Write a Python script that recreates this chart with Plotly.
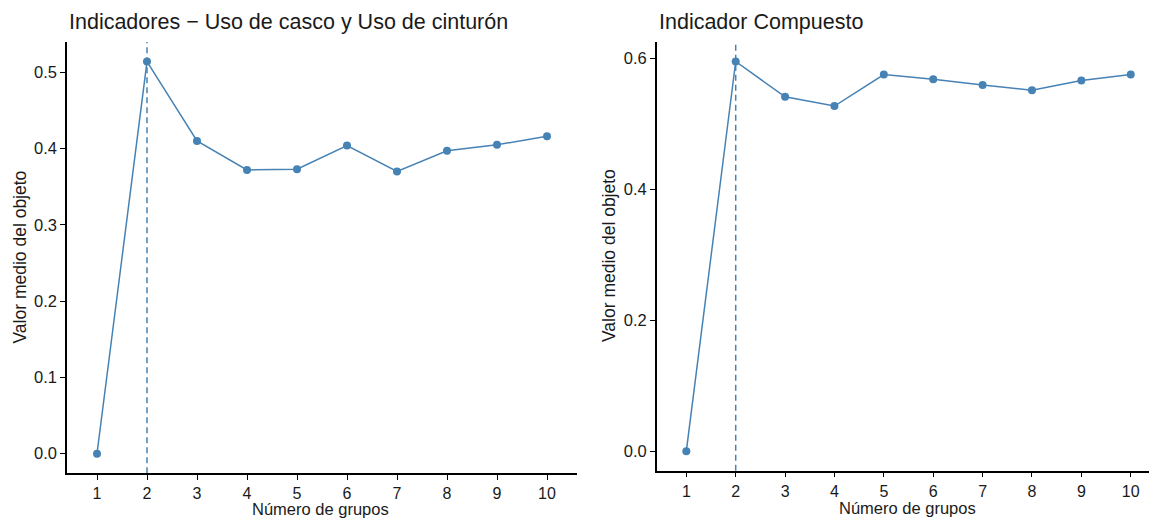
import plotly.graph_objects as go

groups = [1, 2, 3, 4, 5, 6, 7, 8, 9, 10]
casco_cinturon = [0.0, 0.514, 0.410, 0.372, 0.373, 0.404, 0.370, 0.397, 0.405, 0.416]
compuesto = [0.0, 0.595, 0.541, 0.527, 0.575, 0.568, 0.559, 0.551, 0.566, 0.575]
optimal_k = 2

title_left = "Indicadores − Uso de casco y Uso de cinturón"
title_right = "Indicador Compuesto"
xlab = "Número de grupos"
ylab = "Valor medio del objeto"

W, H = 1149, 518
FONT = "Liberation Sans, Arial, sans-serif"
COL = "#4682B4"
TXT = "#1a1a1a"

fig = go.Figure()
fig.add_trace(go.Scatter(x=groups, y=casco_cinturon, mode="lines+markers",
                         line=dict(color=COL, width=1.5), marker=dict(color=COL, size=8),
                         xaxis="x", yaxis="y", showlegend=False))
fig.add_trace(go.Scatter(x=groups, y=compuesto, mode="lines+markers",
                         line=dict(color=COL, width=1.5), marker=dict(color=COL, size=8),
                         xaxis="x2", yaxis="y2", showlegend=False))

def px_x(p):
    return p / W

def px_y(p):
    return 1 - p / H

axis_common = dict(showline=True, linecolor="black", linewidth=1.5, ticks="outside",
                   ticklen=5, tickwidth=1.2, tickcolor="black", showgrid=False, zeroline=False,
                   tickfont=dict(family=FONT, size=16.5, color=TXT))
xtickfont = dict(family=FONT, size=16, color=TXT)

ymax1 = max(casco_cinturon)
ymax2 = max(compuesto)
fig.update_layout(
    width=W, height=H, margin=dict(l=0, r=0, t=0, b=0),
    plot_bgcolor="white", paper_bgcolor="white",
    xaxis=dict(domain=[px_x(67), px_x(577)], range=[0.4, 10.6], tickmode="array",
               tickvals=groups, ticktext=[str(g) for g in groups], anchor="y", **axis_common),
    yaxis=dict(domain=[px_y(473.3), px_y(42)], range=[-0.05 * ymax1, 1.05 * ymax1],
               tickvals=[0, 0.1, 0.2, 0.3, 0.4, 0.5], tickformat=".1f", anchor="x", **axis_common),
    xaxis2=dict(domain=[px_x(656.7), 1.0], range=[0.4, 10.37], tickmode="array",
                tickvals=groups, ticktext=[str(g) for g in groups], anchor="y2", **axis_common),
    yaxis2=dict(domain=[px_y(470.7), px_y(42)], range=[-0.05 * ymax2, 1.05 * ymax2],
                tickvals=[0, 0.2, 0.4, 0.6], tickformat=".1f", anchor="x2", **axis_common),
)
fig.update_xaxes(tickfont=xtickfont)

for xr, yr in (("x", "y domain"), ("x2", "y2 domain")):
    fig.add_shape(type="line", xref=xr, yref=yr, x0=optimal_k, x1=optimal_k, y0=0, y1=1,
                  line=dict(color=COL, width=1.5, dash="6px,4px"), layer="below")

ann = [
    dict(text=title_left, x=px_x(67), y=px_y(22), xanchor="left", yanchor="middle", size=21.5),
    dict(text=title_right, x=px_x(657), y=px_y(22), xanchor="left", yanchor="middle", size=21.5),
    dict(text=xlab, x=px_x(320), y=px_y(509), xanchor="center", yanchor="middle", size=16.5),
    dict(text=xlab, x=px_x(907), y=px_y(507.5), xanchor="center", yanchor="middle", size=16.5),
]
for a in ann:
    fig.add_annotation(text=a["text"], x=a["x"], y=a["y"], xref="paper", yref="paper",
                       xanchor=a["xanchor"], yanchor=a["yanchor"], showarrow=False,
                       font=dict(family=FONT, size=a["size"], color=TXT))
for xc, yc in ((19, 257.5), (609, 256)):
    fig.add_annotation(text=ylab, x=px_x(xc), y=px_y(yc), xref="paper", yref="paper",
                       xanchor="center", yanchor="middle", textangle=-90, showarrow=False,
                       font=dict(family=FONT, size=17.5, color=TXT))

fig.write_html("out.html", config={"displayModeBar": False},
               post_script="document.body.style.margin='0';document.body.style.overflow='hidden';")
